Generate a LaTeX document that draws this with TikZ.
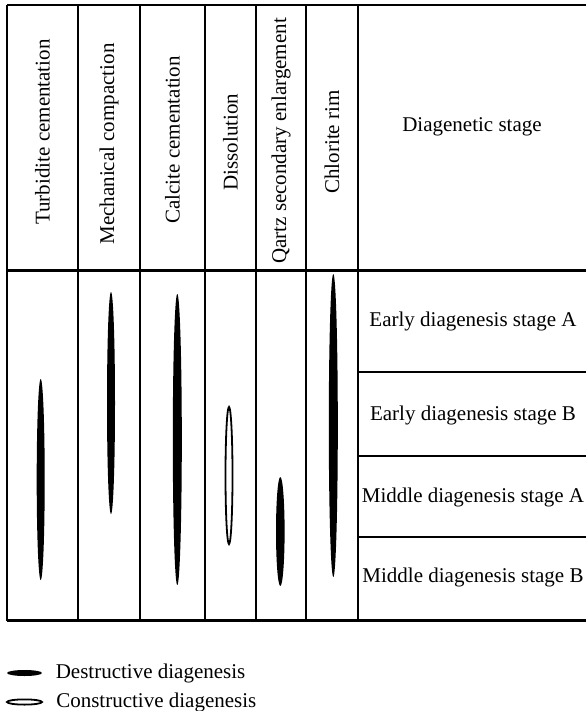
\documentclass[tikz,border=0pt]{standalone}
\usepackage{fontspec}
\setmainfont{Liberation Serif}
\usetikzlibrary{shapes.geometric,positioning}

\begin{document}
\begin{tikzpicture}[
    x=0.5pt, y=-0.5pt,
    grid/.style={line width=1.1pt, black},
    head/.style={rotate=90, font=\fontsize{10.5}{12}\selectfont, inner sep=0pt},
    stage/.style={font=\fontsize{10.5}{12}\selectfont, inner sep=0pt},
    destr/.style={ellipse, fill=black, draw=none, inner sep=0pt},
    constr/.style={ellipse, draw=black, line width=0.9pt, fill=white, inner sep=0pt},
    legtext/.style={font=\fontsize{10.5}{12}\selectfont, inner sep=0pt}
]
    \useasboundingbox (0,0) rectangle (586,711);

    \draw[grid] (7,5) -- (586,5);
    \draw[grid] (7,270.5) -- (586,270.5);
    \draw[grid] (7,620.5) -- (586,620.5);
    \foreach \x in {7,78,140,205,256,306,358}
        \draw[grid] (\x,5) -- (\x,620.5);
    \foreach \y in {372,456,537}
        \draw[grid] (358,\y) -- (586,\y);

    \node[head] (turb) at (42.5,132) {Turbidite cementation};
    \node[head] (mech) at (109,144) {Mechanical compaction};
    \node[head] (calc) at (172.5,140) {Calcite cementation};
    \node[head] (diss) at (230.5,142) {Dissolution};
    \node[head] (qtz) at (281,141) {Qartz secondary enlargement};
    \node[head] (chl) at (332,142) {Chlorite rim};

    \node[stage] (stg) at (472,127) {Diagenetic stage};
    \node[stage] (ea) at (473,321) {Early diagenesis stage A};
    \node[stage] (eb) at (473,415) {Early diagenesis stage B};
    \node[stage] (ma) at (473,497) {Middle diagenesis stage A};
    \node[stage] (mb) at (473,577) {Middle diagenesis stage B};

    \node[destr, minimum width=4pt, minimum height=100.5pt] (turbbar) at (40.7,479.5) {};
    \node[destr, minimum width=4pt, minimum height=111pt] (mechbar) at (111,403) {};
    \node[destr, minimum width=4.5pt, minimum height=145.5pt] (calcbar) at (177.3,439.5) {};
    \node[constr, minimum width=3.5pt, minimum height=68.5pt] (dissbar) at (229,475.5) {};
    \node[destr, minimum width=4.3pt, minimum height=54.5pt] (qtzbar) at (280.3,531.5) {};
    \node[destr, minimum width=4.5pt, minimum height=151.5pt] (chlbar) at (333.3,425.5) {};

    \node[destr, minimum width=17.5pt, minimum height=3pt] (keyd) at (24.5,673) {};
    \node[legtext, right=6.5pt of keyd] (keydtext) {Destructive diagenesis};
    \node[constr, minimum width=17.5pt, minimum height=2.6pt] (keyc) at (24.5,702) {};
    \node[legtext, right=6.5pt of keyc] (keyctext) {Constructive diagenesis};
\end{tikzpicture}
\end{document}
